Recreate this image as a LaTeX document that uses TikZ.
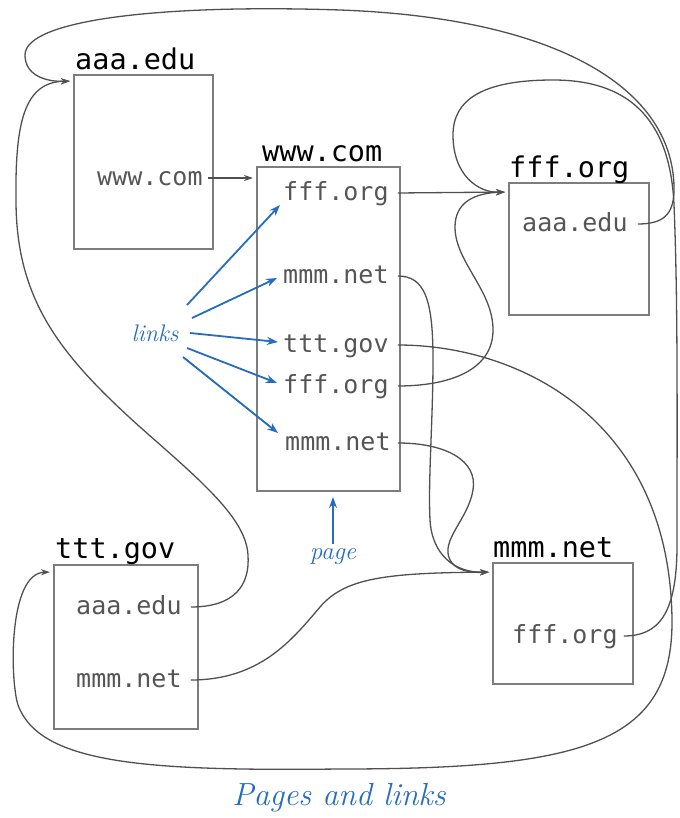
\documentclass[tikz,border=0pt]{standalone}
\usepackage{fontspec}
\setmonofont{DejaVu Sans Mono}
\usetikzlibrary{arrows.meta,calc}
\definecolor{linkblue}{RGB}{38,108,192}
\definecolor{boxgray}{RGB}{125,125,125}
\definecolor{linegray}{RGB}{80,80,80}
\definecolor{itemgray}{RGB}{85,85,85}
\begin{document}
\begin{tikzpicture}[x=1pt,y=-1pt,
  pagebox/.style={draw=boxgray, line width=2pt, inner sep=0pt},
  title/.style={font=\ttfamily\fontsize{28.5}{30}\selectfont, text=black, anchor=base west, inner sep=0pt},
  item/.style={font=\ttfamily\fontsize{25}{27}\selectfont, text=itemgray, anchor=base west, inner sep=0pt},
  conn/.style={draw=linegray, line width=1.3pt},
  arr/.style={conn, -{Stealth[length=9pt,width=6pt]}, shorten >=3pt},
  bluearr/.style={draw=linkblue, line width=1.8pt, -{Stealth[length=11pt,width=8pt]}},
  bluelabel/.style={font=\itshape\fontsize{24}{26}\selectfont, text=linkblue, inner sep=0pt}]
\useasboundingbox (0,0) rectangle (679,818);
% boxes
\node[pagebox, minimum width=139pt, minimum height=174pt] (aaa) at (143.5,162) {};
\node[pagebox, minimum width=143pt, minimum height=324pt] (www) at (328.5,329) {};
\node[pagebox, minimum width=140pt, minimum height=132pt] (fff) at (579,249) {};
\node[pagebox, minimum width=144pt, minimum height=164pt] (ttt) at (126,647) {};
\node[pagebox, minimum width=140pt, minimum height=121pt] (mmm) at (563,623.5) {};
% titles
\node[title] (taaa) at (75,70) {aaa.edu};
\node[title] (twww) at (262,162) {www.com};
\node[title] (tfff) at (509,178) {fff.org};
\node[title] (tttt) at (55,558) {ttt.gov};
\node[title] (tmmm) at (493,557) {mmm.net};
% items (baseline 7.5 below the connector line)
\node[item] (i1) at (97,185.5) {www.com};
\node[item] (w1) at (283,200.5) {fff.org};
\node[item] (w2) at (283,283.5) {mmm.net};
\node[item] (w3) at (283,352.5) {ttt.gov};
\node[item] (w4) at (283,393.5) {fff.org};
\node[item] (w5) at (285,450.5) {mmm.net};
\node[item] (f1) at (522,231.5) {aaa.edu};
\node[item] (t1) at (76,614.5) {aaa.edu};
\node[item] (t2) at (76,687.5) {mmm.net};
\node[item] (m1) at (512,643.5) {fff.org};
% connector start points
\coordinate (i1o) at ($(i1.base east)+(5,-7.5)$);
\coordinate (w1o) at ($(w1.base east)+(9,-7.5)$);
\coordinate (w2o) at ($(w2.base east)+(9,-7.5)$);
\coordinate (w3o) at ($(w3.base east)+(9,-7.5)$);
\coordinate (w4o) at ($(w4.base east)+(9,-7.5)$);
\coordinate (w5o) at ($(w5.base east)+(7,-7.5)$);
\coordinate (f1o) at ($(f1.base east)+(10,-7.5)$);
\coordinate (t1o) at ($(t1.base east)+(9,-7.5)$);
\coordinate (t2o) at ($(t2.base east)+(9,-7.5)$);
\coordinate (m1o) at ($(m1.base east)+(6,-7.5)$);
% entry points
\coordinate (aIn) at ($(aaa.north west)+(0,7)$);
\coordinate (fIn) at ($(fff.north west)+(0,10)$);
\coordinate (mIn) at ($(mmm.north west)+(0,10)$);
\coordinate (tIn) at ($(ttt.north west)+(0,8)$);
% connectors
\draw[arr] (i1o) -- (i1o -| www.west);
\draw[arr] (w1o) -- (fIn);
\draw[arr] (f1o) .. controls (664,224) and (673,214) .. (674,192)
  .. controls (676,90) and (560,18) .. (340,10)
  .. controls (160,4) and (25,20) .. (25,55)
  .. controls (25,75) and (45,82) .. (aIn);
\draw[arr] (m1o) .. controls (658,636) and (677,615) .. (677,545)
  .. controls (677,420) and (678,300) .. (674,205)
  .. controls (670,115) and (625,80) .. (553,80)
  .. controls (482,80) and (453,100) .. (453,135)
  .. controls (453,175) and (478,193) .. (fIn);
\draw[arr] (t1o) .. controls (235,607) and (250,585) .. (248,555)
  .. controls (246,518) and (200,480) .. (140,427)
  .. controls (60,355) and (16,300) .. (16,200)
  .. controls (15,120) and (25,82) .. (aIn);
\draw[arr] (t2o) .. controls (260,680) and (292,640) .. (320,607)
  .. controls (345,578) and (385,573) .. (mIn);
\draw[arr] (w3o) .. controls (520,345) and (670,420) .. (672,620)
  .. controls (673,745) and (580,769) .. (340,769)
  .. controls (150,771) and (40,765) .. (18,705)
  .. controls (10,680) and (8,573) .. (tIn);
\draw[arr] (w4o) .. controls (450,386) and (493,370) .. (493,330)
  .. controls (493,290) and (455,262) .. (455,227)
  .. controls (455,202) and (475,193) .. (fIn);
\draw[arr] (w2o) .. controls (425,276) and (433,300) .. (433,360)
  .. controls (433,420) and (428,480) .. (430,520)
  .. controls (432,555) and (455,573) .. (mIn);
\draw[arr] (w5o) .. controls (445,443) and (478,460) .. (473,490)
  .. controls (468,520) and (440,540) .. (450,560)
  .. controls (455,570) and (470,573) .. (mIn);
% blue labels
\node[bluelabel] (links) at (155,333) {links};
\draw[bluearr] ($(links)+(32,-28)$) -- ($(w1.base west)+(-3,4.5)$);
\draw[bluearr] ($(links)+(37,-15)$) -- ($(w2.base west)+(-6,-5.5)$);
\draw[bluearr] ($(links)+(35,0)$) -- ($(w3.base west)+(-5,-10.5)$);
\draw[bluearr] ($(links)+(32,15)$) -- ($(w4.base west)+(-6,-10.5)$);
\draw[bluearr] ($(links)+(28,24)$) -- ($(w5.base west)+(-7,-17.5)$);
\node[bluelabel, font=\itshape\fontsize{25}{27}\selectfont] (page) at (333,557) {page};
\draw[bluearr] ($(page.north)+(0,-5)$) -- ($(www.south)+(4.5,5)$);
\node[bluelabel, font=\itshape\fontsize{32}{34}\selectfont] (cap) at (339,798) {Pages and links};
\end{tikzpicture}
\end{document}
